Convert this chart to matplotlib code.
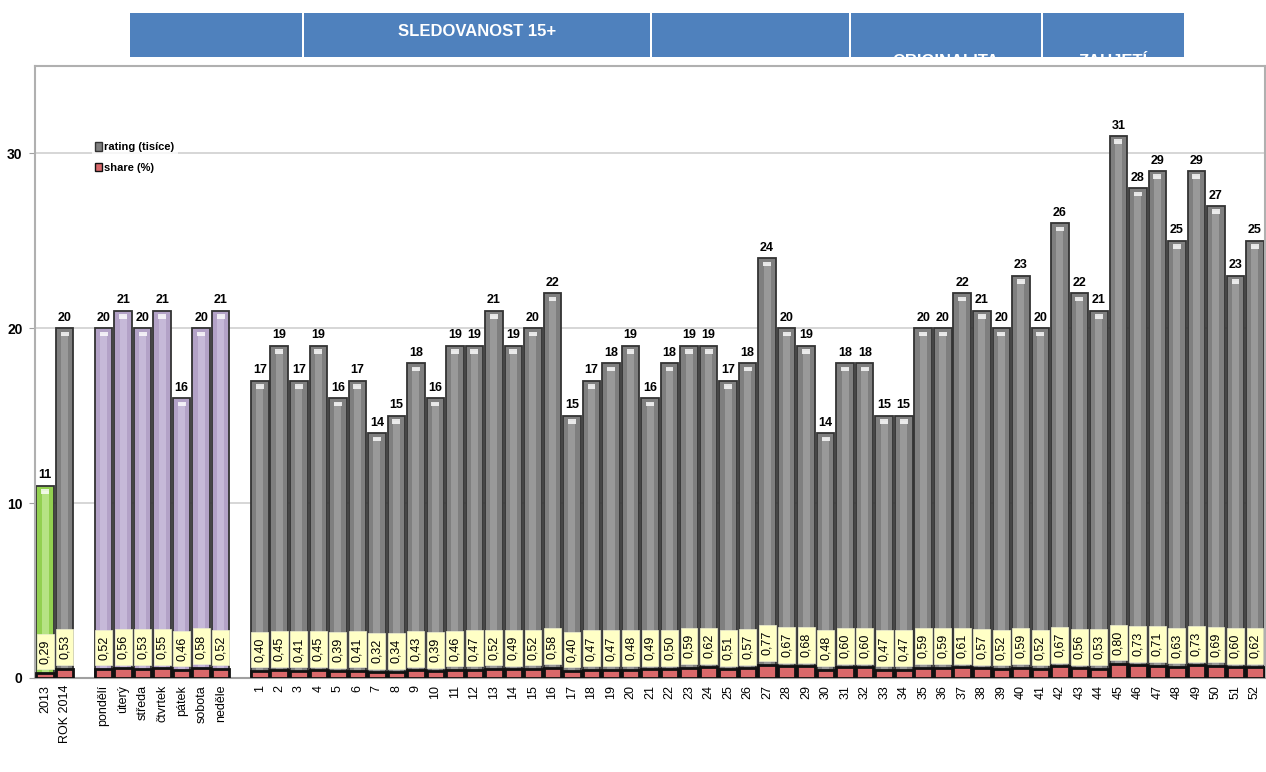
import matplotlib.pyplot as plt
import numpy as np
from matplotlib.patches import Patch, Rectangle

plt.rcParams["font.family"] = ["Liberation Sans", "DejaVu Sans"]

# --- data ---
year_labels = ["2013", "ROK 2014"]
year_rating = [11, 20]
year_share = [0.29, 0.53]

day_labels = ["pondělí", "úterý", "středa", "čtvrtek", "pátek", "sobota", "neděle"]
day_rating = [20, 21, 20, 21, 16, 20, 21]
day_share = [0.52, 0.56, 0.53, 0.55, 0.46, 0.58, 0.52]

week_labels = [str(i) for i in range(1, 53)]
week_rating = [17, 19, 17, 19, 16, 17, 14, 15, 18, 16, 19, 19, 21, 19, 20, 22, 15, 17,
               18, 19, 16, 18, 19, 19, 17, 18, 24, 20, 19, 14, 18, 18, 15, 15, 20, 20,
               22, 21, 20, 23, 20, 26, 22, 21, 31, 28, 29, 25, 29, 27, 23, 25]
week_share = [0.40, 0.45, 0.41, 0.45, 0.39, 0.41, 0.32, 0.34, 0.43, 0.39, 0.46, 0.47,
              0.52, 0.49, 0.52, 0.58, 0.40, 0.47, 0.47, 0.48, 0.49, 0.50, 0.59, 0.62,
              0.51, 0.57, 0.77, 0.67, 0.68, 0.48, 0.60, 0.60, 0.47, 0.47, 0.59, 0.59,
              0.61, 0.57, 0.52, 0.59, 0.52, 0.67, 0.56, 0.53, 0.80, 0.73, 0.71, 0.63,
              0.73, 0.69, 0.60, 0.62]

header_labels = ["", "SLEDOVANOST 15+", "", "ORIGINALITA", "ZAUJETÍ"]

# slot layout: two years, gap, seven days, gap, 52 weeks
labels = year_labels + day_labels + week_labels
rating = np.array(year_rating + day_rating + week_rating, dtype=float)
share = np.array(year_share + day_share + week_share)
x = np.concatenate([np.arange(2), np.arange(3, 10), np.arange(11, 63)])
colors = (["#92d050", "#7f7f7f"] + ["#b3a2c7"] * len(day_labels)
          + ["#7f7f7f"] * len(week_labels))
highlights = (["#b6e384", "#999999"] + ["#c6b9d8"] * len(day_labels)
              + ["#999999"] * len(week_labels))

fig = plt.figure(figsize=(12.66, 7.72), dpi=100)
ax = fig.add_axes([0.0276, 0.1218, 0.9714, 0.7927])

width = 0.9
ax.bar(x, rating, width=width, color=colors, edgecolor="#333333", linewidth=1.3, zorder=2)
ax.bar(x, rating - 0.3, width=width * 0.4, color=highlights, linewidth=0, zorder=2.1)
# little light cap at the top of each bar
ax.bar(x, 0.25, bottom=rating - 0.45, width=width * 0.45, color="white", alpha=0.8,
       linewidth=0, zorder=2.2)

# yellow label boxes for share, sitting on the red share bars
ax.bar(x, 2.05, bottom=share + 0.2, width=width * 0.96, color="#ffffc6",
       edgecolor="#eeeed0", linewidth=0.5, zorder=2.5)
ax.bar(x, share, width=width, color="#d9686a", edgecolor="#111111", linewidth=2.0, zorder=3)

for xi, r, s in zip(x, rating, share):
    ax.text(xi, r + 0.25, f"{int(r)}", ha="center", va="bottom", fontsize=9,
            fontweight="bold", zorder=4)
    ax.text(xi, s + 1.22, f"{s:.2f}".replace(".", ","), ha="center", va="center",
            rotation=90, fontsize=9, zorder=4)

ax.set_xlim(-0.52, 62.5)
ax.set_ylim(0, 35)
ax.set_yticks([0, 10, 20, 30])
ax.tick_params(axis="y", labelsize=10, length=4, color="#a0a0a0", pad=5)
for lbl in ax.get_yticklabels():
    lbl.set_fontweight("bold")
ax.set_xticks(x)
ax.set_xticklabels(labels, rotation=90, fontsize=9)
ax.tick_params(axis="x", length=0, pad=5)
ax.grid(axis="y", color="#d0d0d0", linewidth=1.2, zorder=0)
ax.set_axisbelow(True)
for side in ["top", "right", "left"]:
    ax.spines[side].set_color("#b0b0b0")
    ax.spines[side].set_linewidth(1.5)
ax.spines["bottom"].set_color("#a0a0a0")
ax.spines["bottom"].set_linewidth(1.5)

handles = [Patch(facecolor="#7f7f7f", edgecolor="#333333", label="rating (tisíce)"),
           Patch(facecolor="#d9686a", edgecolor="#111111", label="share (%)")]
leg = ax.legend(handles=handles, loc="upper left", bbox_to_anchor=(0.042, 0.89),
                frameon=True, fontsize=8, handlelength=0.6, handleheight=0.8,
                handletextpad=0.2, borderpad=0.3, labelspacing=0.95)
leg.get_frame().set_edgecolor("none")
leg.get_frame().set_facecolor("white")
for txt in leg.get_texts():
    txt.set_fontweight("bold")

# header band of blue boxes, text clipped at the bottom edge like the source
box_edges = [130, 304, 652, 851, 1043, 1186]
y0, y1 = 1 - 57 / 772, 1 - 13 / 772
for i, name in enumerate(header_labels):
    left = box_edges[i] / 1266
    right = (box_edges[i + 1] - 2) / 1266
    rect = Rectangle((left, y0), right - left, y1 - y0, transform=fig.transFigure,
                     facecolor="#4f81bd", edgecolor="none")
    fig.add_artist(rect)
    if name:
        ty = 1 - 32 / 772 if i == 1 else 1 - 61 / 772
        t = fig.text((left + right) / 2, ty, name, ha="center", va="center",
                     color="white", fontsize=12, fontweight="bold")
        t.set_clip_path(rect)

fig.savefig("out.png", dpi=100)
